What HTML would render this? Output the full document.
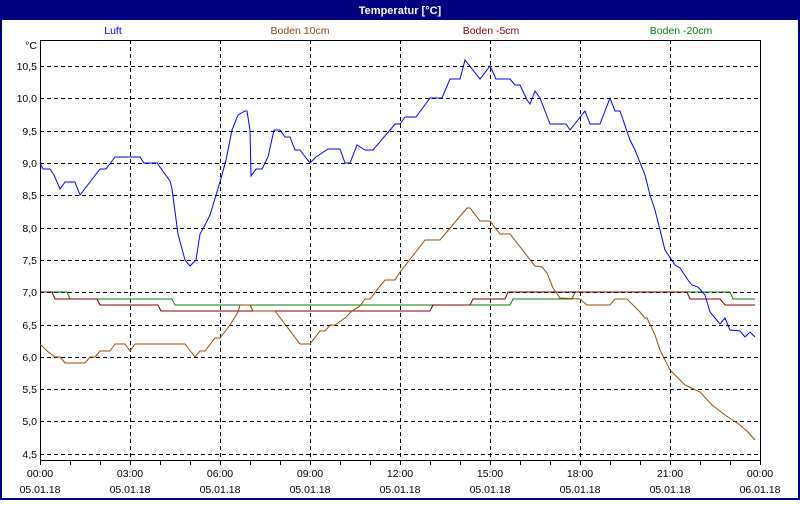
<!DOCTYPE html>
<html><head><meta charset="utf-8"><style>
body{margin:0;width:800px;height:500px;overflow:hidden;background:#fff;font-family:"Liberation Sans",sans-serif}
</style></head><body>
<svg width="800" height="500" xmlns="http://www.w3.org/2000/svg" font-family="Liberation Sans, sans-serif" font-size="10.5">
<rect x="0" y="0" width="800" height="500" fill="#000080"/>
<rect x="2" y="20" width="796" height="478" fill="#fff"/>
<text x="400" y="14" fill="#fff" font-weight="bold" text-anchor="middle" font-size="11">Temperatur [°C]</text>
<g text-anchor="middle">
<text x="113" y="34" fill="#0000ff">Luft</text>
<text x="300" y="34" fill="#8b4513">Boden 10cm</text>
<text x="491" y="34" fill="#800000">Boden -5cm</text>
<text x="681" y="34" fill="#008000">Boden -20cm</text>
</g>
<g stroke="#000" stroke-dasharray="4,3" stroke-width="1">
<path d="M40 66.5H760M40 98.5H760M40 131.5H760M40 163.5H760M40 195.5H760M40 228.5H760M40 260.5H760M40 292.5H760M40 325.5H760M40 357.5H760M40 389.5H760M40 421.5H760M40 454.5H760"/>
<path d="M130.5 40V460M220.5 40V460M310.5 40V460M400.5 40V460M490.5 40V460M580.5 40V460M670.5 40V460"/>
</g>
<path d="M40.5 40V460.5H760.5V40.5H40.5" fill="none" stroke="#000"/>
<path d="M70.5 461v4M100.5 461v4M130.5 461v4M160.5 461v4M190.5 461v4M220.5 461v4M250.5 461v4M280.5 461v4M310.5 461v4M340.5 461v4M370.5 461v4M400.5 461v4M430.5 461v4M460.5 461v4M490.5 461v4M520.5 461v4M550.5 461v4M580.5 461v4M610.5 461v4M640.5 461v4M670.5 461v4M700.5 461v4M730.5 461v4M760.5 461v4M40.5 461v4" stroke="#000"/>
<g text-anchor="end">
<text x="37" y="49">°C</text>
<text x="37" y="70">10,5</text><text x="37" y="102">10,0</text><text x="37" y="135">9,5</text><text x="37" y="167">9,0</text><text x="37" y="199">8,5</text><text x="37" y="232">8,0</text><text x="37" y="264">7,5</text><text x="37" y="296">7,0</text><text x="37" y="329">6,5</text><text x="37" y="361">6,0</text><text x="37" y="393">5,5</text><text x="37" y="425">5,0</text><text x="37" y="458">4,5</text>
</g>
<g text-anchor="middle">
<text x="40" y="477">00:00</text><text x="130" y="477">03:00</text><text x="220" y="477">06:00</text><text x="310" y="477">09:00</text><text x="400" y="477">12:00</text><text x="490" y="477">15:00</text><text x="580" y="477">18:00</text><text x="670" y="477">21:00</text><text x="760" y="477">00:00</text>
<text x="40" y="493">05.01.18</text><text x="130" y="493">05.01.18</text><text x="220" y="493">05.01.18</text><text x="310" y="493">05.01.18</text><text x="400" y="493">05.01.18</text><text x="490" y="493">05.01.18</text><text x="580" y="493">05.01.18</text><text x="670" y="493">05.01.18</text><text x="760" y="493">06.01.18</text>
</g>
<g fill="none" stroke-width="1">
<polyline stroke="#008000" points="40,292 67,292 70,299 172,299 175,305 510,305 513,299 572,299 575,292 730,292 733,299 755,299"/>
<polyline stroke="#800000" points="40,292 52,292 55,299 97,299 100,305 158,305 161,311 430,311 433,305 470,305 473,299 505,299 508,292 687,292 690,299 720,299 725,305 755,305"/>
<polyline stroke="#994c00" points="40,344 47,351 55,357 60,357 65,363 85,363 90,357 95,357 100,351 110,351 115,344 125,344 130,351 135,344 185,344 195,357 200,351 205,351 215,338 220,338 230,325 238,312 240,305 250,305 253,311 275,311 300,344 310,344 320,331 325,331 330,325 335,325 345,318 352,311 360,306 365,299 370,299 380,286 385,280 395,280 400,272 415,253 425,240 430,240 440,240 467,208 470,208 480,221 490,221 500,234 510,234 535,266 542,267 547,273 553,288 560,298 580,299 587,305 610,305 615,299 627,299 640,312 645,318 647,318 655,335 660,350 670,370 685,385 700,392 712,405 725,415 740,425 748,432 755,440"/>
<polyline stroke="#0000ff" points="40,163 43,169 50,169 54,175 60,189 65,182 75,182 80,195 100,169 106,169 115,157 140,157 144,163 157,163 170,181 172,189 178,234 185,260 190,266 196,260 200,234 204,227 210,215 220,182 226,160 232,130 238,115 245,111 247,111 250,130 251,176 256,169 262,169 268,157 274,130 280,130 285,137 290,137 295,150 300,150 310,163 316,157 328,149 340,149 345,163 350,163 357,145 365,150 373,150 390,130 395,124 400,124 405,117 416,117 430,98 442,98 450,79 460,79 465,60 480,79 490,66 496,79 510,79 515,85 520,85 527,100 530,104 535,91 540,98 550,124 566,124 570,130 585,111 590,124 600,124 610,98 615,111 620,111 630,140 635,150 645,175 650,195 655,210 665,250 675,265 680,268 688,280 692,285 698,287 705,295 710,312 720,324 725,318 730,330 740,331 745,337 750,332 755,337"/>
</g>
</svg>
</body></html>
